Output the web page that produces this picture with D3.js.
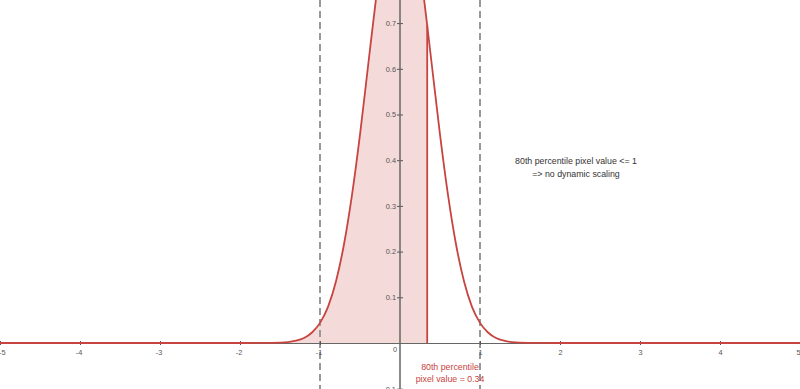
<!DOCTYPE html>
<html lang="en">
<head>
<meta charset="UTF-8">
<title>80th percentile</title>
<style>
  body { margin: 0; background: #fff; }
  svg { display: block; font-family: "Liberation Sans", Arial, sans-serif; }
  .tick text { fill: #555; font-size: 7.4px; }
  .tick line { stroke: #555; }
  .guide { stroke: #999; stroke-width: 2; stroke-dasharray: 7,4; }
  .curve { fill: none; stroke: #c74440; stroke-width: 1.8; }
  .shade { fill: #c74440; fill-opacity: 0.2; stroke: none; }
  .note { fill: #333; font-size: 8.8px; text-anchor: middle; }
  .pct { fill: #c74440; font-size: 8.8px; text-anchor: middle; }
</style>
</head>
<body>
<svg></svg>
<script src="https://cdnjs.cloudflare.com/ajax/libs/d3/7.8.5/d3.min.js"></script>
<script>
// values (curve is a narrow bell, peak above the top edge)
var curveX = [-5, -2, -1.8, -1.6, -1.4, -1.3, -1.2, -1.1, -1.0, -0.9, -0.8, -0.7, -0.6, -0.5, -0.4, -0.3, -0.2, -0.1,
              0, 0.1, 0.2, 0.3, 0.34, 0.4, 0.5, 0.6, 0.7, 0.8, 0.9, 1.0, 1.1, 1.2, 1.3, 1.4, 1.6, 1.8, 2, 5];
var curveY = [0, 0, 0.0001, 0.0003, 0.002, 0.005, 0.011, 0.023, 0.044, 0.079, 0.135, 0.216, 0.324, 0.456, 0.605, 0.753, 0.880, 0.967,
              0.997, 0.967, 0.880, 0.753, 0.695, 0.605, 0.456, 0.324, 0.216, 0.135, 0.079, 0.044, 0.023, 0.011, 0.005, 0.002, 0.0003, 0.0001, 0, 0];

var xTicks = [-5, -4, -3, -2, -1, 1, 2, 3, 4, 5];
var yTicks = [-0.1, 0.1, 0.2, 0.3, 0.4, 0.5, 0.6, 0.7];
var guideAt = [-1, 1];
var pct80 = 0.34;
var pctLines = ["80th percentile", "pixel value = 0.34"];
var noteLines = ["80th percentile pixel value <= 1", "=> no dynamic scaling"];

var width = 800, height = 389;

var svg = d3.select("svg").attr("width", width).attr("height", height);

var x = d3.scaleLinear().domain([-5, 5]).range([0, 800]);
var y = d3.scaleLinear().domain([0, 0.7]).range([343, 343 - 0.7 * 457]);

// plain hyphen minus, like the reference
var fmt = function(d) { return String(d); };

var pts = curveX.map(function(d, i) { return [d, curveY[i]]; });

// shaded area up to the percentile
var area = d3.area()
    .x(function(d) { return x(d[0]); })
    .y0(y(0))
    .y1(function(d) { return y(d[1]); })
    .curve(d3.curveMonotoneX);

svg.append("path")
    .datum(pts.filter(function(d) { return d[0] <= pct80; }))
    .attr("class", "shade")
    .attr("d", area);

// dashed guides
svg.selectAll(".guide")
    .data(guideAt)
    .enter()
    .append("line")
    .attr("class", "guide")
    .attr("x1", function(d) { return x(d); })
    .attr("x2", function(d) { return x(d); })
    .attr("y1", 0)
    .attr("y2", height);

// x axis
var xAxis = svg.append("g")
    .attr("transform", "translate(0," + y(0) + ")")
    .call(d3.axisBottom(x).tickValues(xTicks).tickFormat(fmt).tickSizeInner(4).tickSizeOuter(0).tickPadding(3));
xAxis.select(".domain").attr("stroke", "#666").attr("stroke-width", 1);
xAxis.selectAll(".tick line").attr("y1", -2).attr("y2", 2);
xAxis.selectAll(".tick text")
    .attr("dx", function(d) { return d < 0 ? -1.5 : 0; })
    .attr("text-anchor", function(d) { return d === -5 ? "start" : (d === 5 ? "end" : "middle"); });

// y axis
var yAxis = svg.append("g")
    .attr("transform", "translate(" + x(0) + ",0)")
    .call(d3.axisLeft(y).tickValues(yTicks).tickFormat(fmt).tickSizeInner(3).tickSizeOuter(0).tickPadding(1));
yAxis.select(".domain").remove();
yAxis.selectAll(".tick line").attr("x1", -3).attr("x2", 3);
yAxis.append("line")
    .attr("x1", 0).attr("x2", 0)
    .attr("y1", 0).attr("y2", height)
    .attr("stroke", "#666").attr("stroke-width", 1.5);
yAxis.append("text")
    .attr("x", -3).attr("y", y(0) + 9)
    .attr("text-anchor", "end")
    .attr("fill", "#555")
    .style("font-size", "7.4px")
    .text("0");

// curve
var line = d3.line()
    .x(function(d) { return x(d[0]); })
    .y(function(d) { return y(d[1]); })
    .curve(d3.curveMonotoneX);

svg.append("path")
    .datum(pts)
    .attr("class", "curve")
    .attr("d", line);

// percentile marker
var pctVal = curveY[curveX.indexOf(pct80)];
svg.append("line")
    .attr("x1", x(pct80)).attr("x2", x(pct80))
    .attr("y1", y(0)).attr("y2", y(pctVal))
    .attr("stroke", "#c74440").attr("stroke-width", 1.8);

svg.selectAll(".pct")
    .data(pctLines)
    .enter()
    .append("text")
    .attr("class", "pct")
    .attr("x", 450)
    .attr("y", function(d, i) { return 369.5 + i * 12.4; })
    .text(function(d) { return d; });

svg.selectAll(".note")
    .data(noteLines)
    .enter()
    .append("text")
    .attr("class", "note")
    .attr("x", 576)
    .attr("y", function(d, i) { return 163.5 + i * 13; })
    .text(function(d) { return d; });
</script>
</body>
</html>
